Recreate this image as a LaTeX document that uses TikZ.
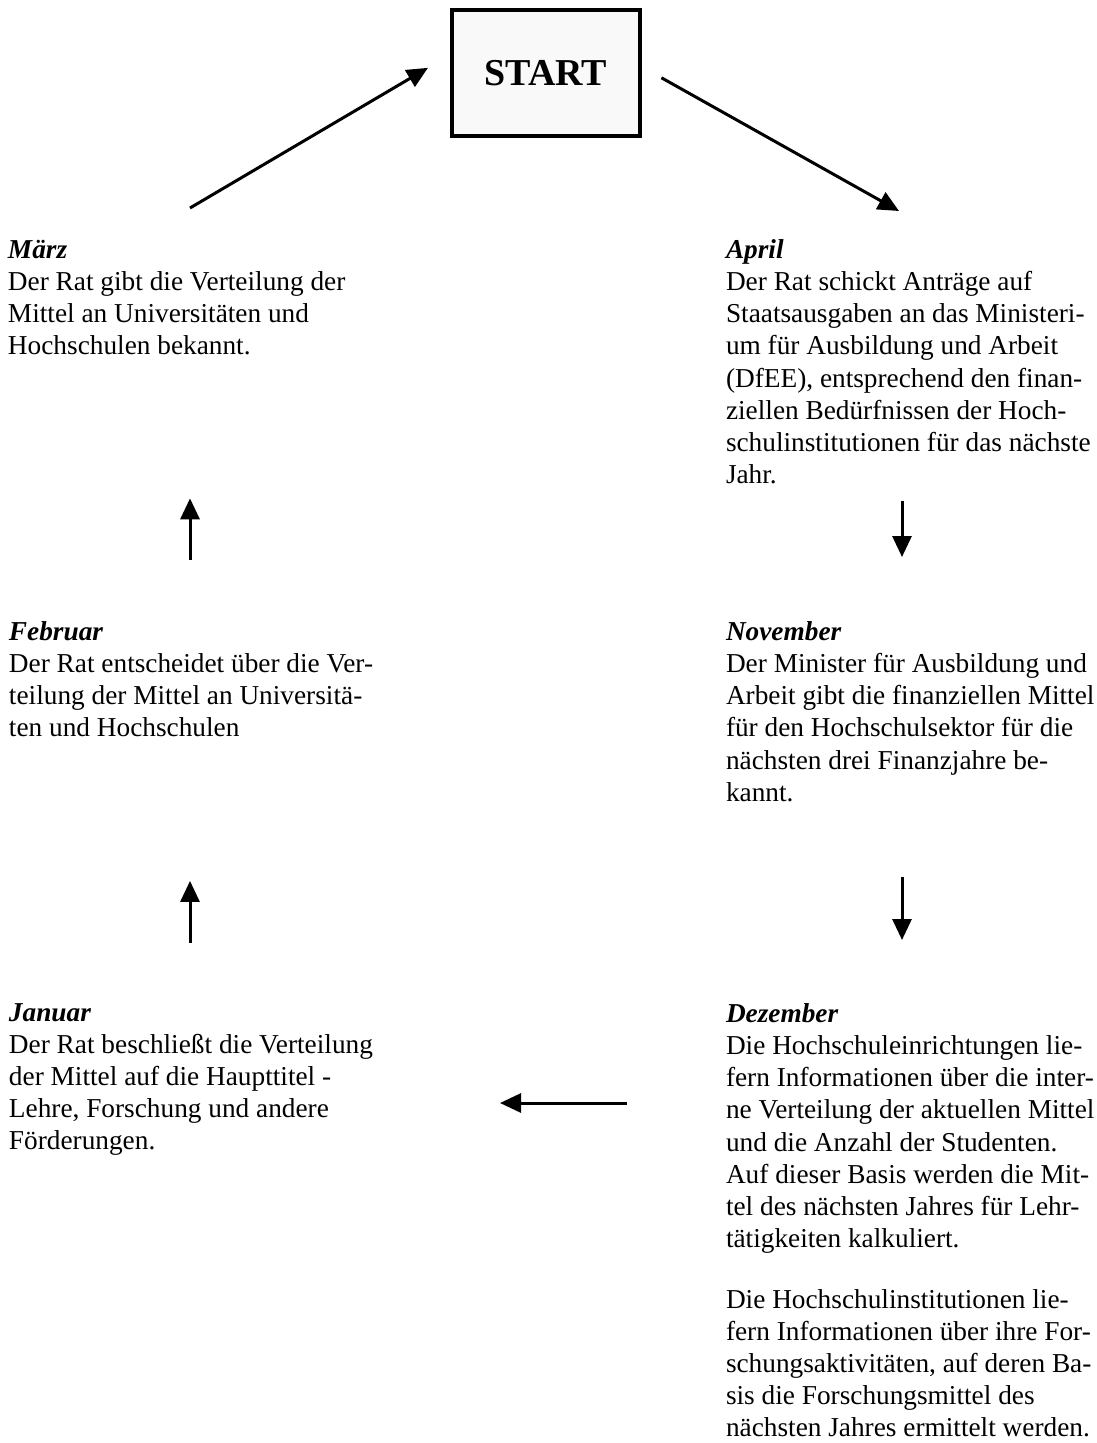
\documentclass[tikz,border=0pt]{standalone}
\usepackage{fontspec}
\setmainfont{Liberation Serif}
\usepackage{tikz}
\usetikzlibrary{arrows.meta}

\begin{document}
\begin{tikzpicture}[
  x=1pt, y=-1pt,
  month/.style={anchor=north west, inner sep=0pt, outer sep=0pt, align=left, font=\fontsize{27.3}{32.1}\selectfont},
  startbox/.style={draw, line width=4.5pt, fill=gray!5, minimum width=188pt, minimum height=126pt, font=\fontsize{38}{44}\selectfont\bfseries},
  arr/.style={-{Triangle[length=21pt, width=19pt]}, line width=3pt}
]
\useasboundingbox (0,0) rectangle (1096,1443);

\node[startbox] (start) at (546,73) {START};

\node[month] (maerz) at (8,240.2) {\textbf{\textit{März}}\\
Der Rat gibt die Verteilung der\\
Mittel an Universitäten und\\
Hochschulen bekannt.};

\node[month] (april) at (726,239.7) {\textbf{\textit{April}}\\
Der Rat schickt Anträge auf\\
Staatsausgaben an das Ministeri-\\
um für Ausbildung und Arbeit\\
(DfEE), entsprechend den finan-\\
ziellen Bedürfnissen der Hoch-\\
schulinstitutionen für das nächste\\
Jahr.};

\node[month] (feb) at (9,621.7) {\textbf{\textit{Februar}}\\
Der Rat entscheidet über die Ver-\\
teilung der Mittel an Universitä-\\
ten und Hochschulen};

\node[month] (nov) at (726,621.7) {\textbf{\textit{November}}\\
Der Minister für Ausbildung und\\
Arbeit gibt die finanziellen Mittel\\
für den Hochschulsektor für die\\
nächsten drei Finanzjahre be-\\
kannt.};

\node[month] (jan) at (9,1003.7) {\textbf{\textit{Januar}}\\
Der Rat beschließt die Verteilung\\
der Mittel auf die Haupttitel -\\
Lehre, Forschung und andere\\
Förderungen.};

\node[month] (dez) at (726,1003.7) {\textbf{\textit{Dezember}}\\
Die Hochschuleinrichtungen lie-\\
fern Informationen über die inter-\\
ne Verteilung der aktuellen Mittel\\
und die Anzahl der Studenten.\\
Auf dieser Basis werden die Mit-\\
tel des nächsten Jahres für Lehr-\\
tätigkeiten kalkuliert.\\[29pt]
Die Hochschulinstitutionen lie-\\
fern Informationen über ihre For-\\
schungsaktivitäten, auf deren Ba-\\
sis die Forschungsmittel des\\
nächsten Jahres ermittelt werden.};

\coordinate (lcol) at (190,0);
\coordinate (rcol) at (902,0);
\coordinate (mtail) at (190,208);
\coordinate (atip) at (899,211);
\coordinate (jtip) at (500,1103);

\draw[arr, shorten >=25.3pt] (mtail) -- ([yshift=18pt]start.west);
\draw[arr, shorten <=22pt] ([yshift=6pt]start.east) -- (atip);
\draw[arr, shorten <=17.3pt, shorten >=64.7pt] (april.south -| rcol) -- (nov.north -| rcol);
\draw[arr, shorten <=75.5pt, shorten >=63.7pt] (nov.south -| rcol) -- (dez.north -| rcol);
\draw[arr, shorten <=99pt] (dez.west |- jtip) -- (jtip);
\draw[arr, shorten <=60.7pt, shorten >=143.7pt] (jan.north -| lcol) -- (feb.south -| lcol);
\draw[arr, shorten <=61.7pt, shorten >=143.2pt] (feb.north -| lcol) -- (maerz.south -| lcol);

\end{tikzpicture}
\end{document}
